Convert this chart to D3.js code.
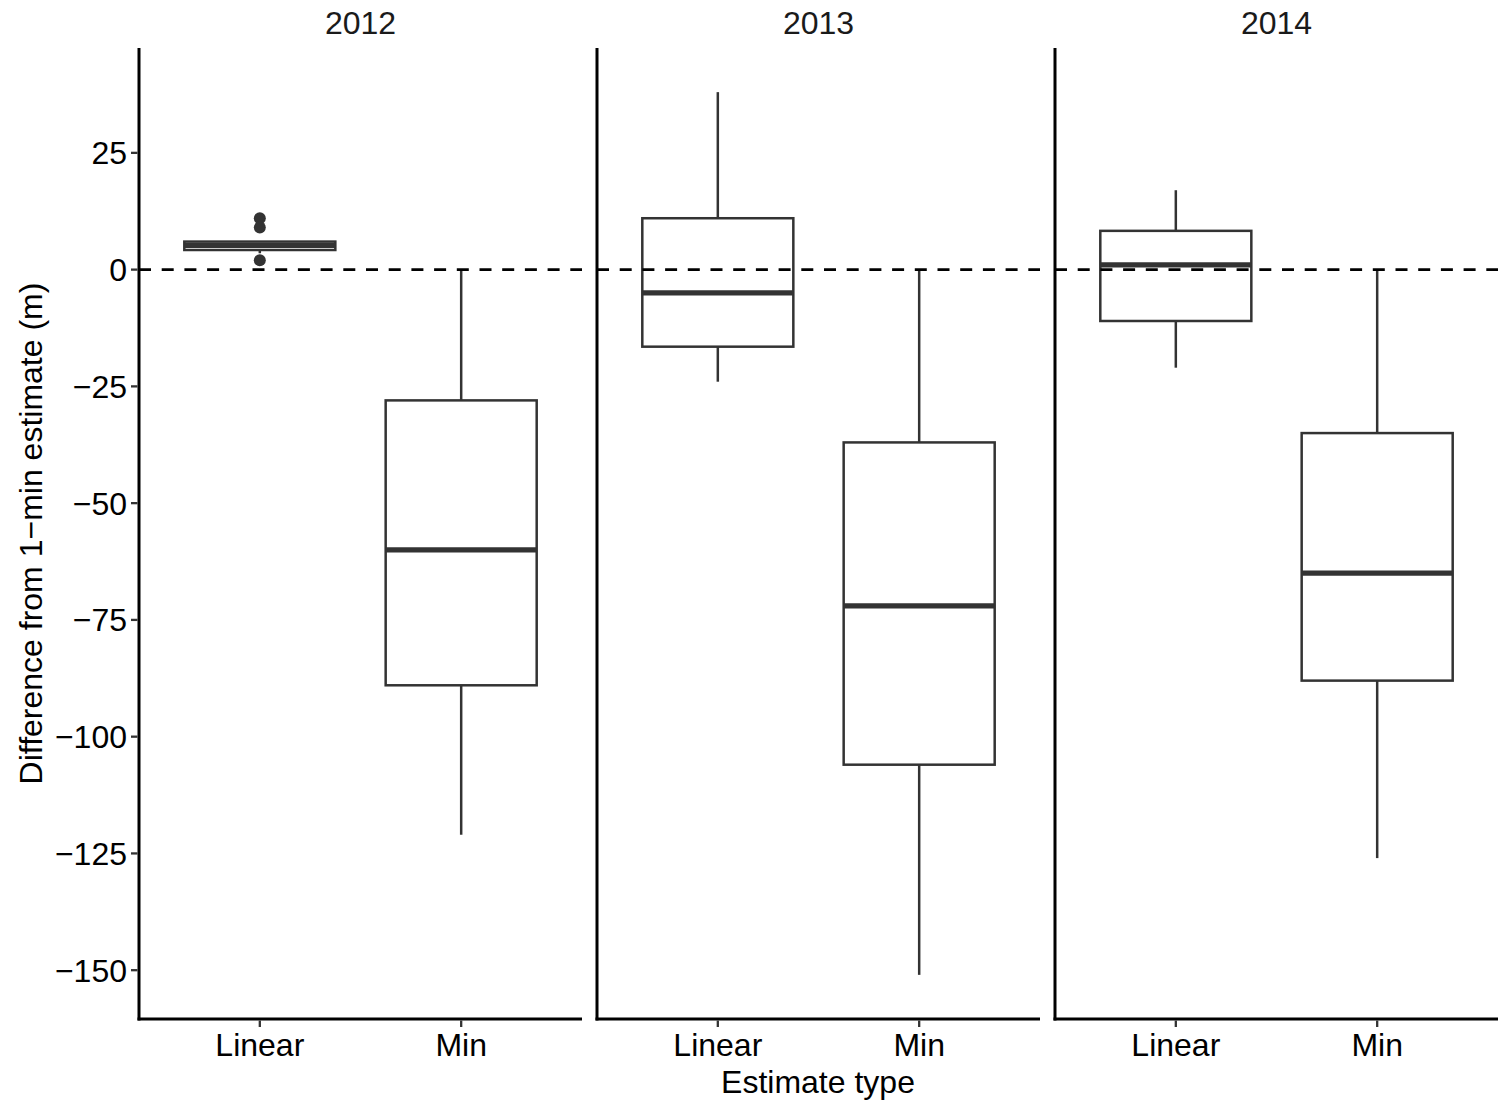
<!DOCTYPE html>
<html><head><meta charset="utf-8">
<script src="https://cdn.jsdelivr.net/npm/d3@7"></script>
<style>body{margin:0;background:#fff}text{font-family:Arial,"Liberation Sans",sans-serif}</style>
</head><body><svg id="c" width="1506" height="1102"></svg>
<script>
const years = ["2012", "2013", "2014"];
const types = ["Linear", "Min"];
// box statistics, order: 2012 Linear, 2012 Min, 2013 Linear, 2013 Min, 2014 Linear, 2014 Min
const whiskerLow = [3.5, -121, -24, -151, -21, -126];
const q1 = [4.2, -89, -16.5, -106, -11, -88];
const median = [5.2, -60, -5, -72, 1, -65];
const q3 = [6.0, -28, 11, -37, 8.3, -35];
const whiskerHigh = [6.0, 0, 38, 0, 17, 0];
const outlierYear = ["2012", "2012", "2012"];
const outlierType = ["Linear", "Linear", "Linear"];
const outlierValue = [11, 9, 2];
const yTicks = [25, 0, -25, -50, -75, -100, -125, -150];

const svg = d3.select("#c");
const plotTop = 48, plotBottom = 1019;
const panelLeft = [139, 597, 1055], panelW = 443;
const y = d3.scaleLinear().domain([-160.45, 47.45]).range([plotBottom, plotTop]);
const dark = "#333333";
const fs = 32;

years.forEach((yr, pi) => {
  const g = svg.append("g").attr("transform", `translate(${panelLeft[pi]},0)`);
  // ggplot-like discrete positions with 0.6 expansion
  const xs = d3.scaleLinear().domain([0.4, 2.6]).range([0, panelW]);
  const pos = t => xs(types.indexOf(t) + 1);
  const bw = xs(1.75) - xs(1);

  types.forEach((t, ti) => {
    const i = pi * 2 + ti;
    const cx = pos(t);
    g.append("line").attr("x1", cx).attr("x2", cx).attr("y1", y(q3[i])).attr("y2", y(whiskerHigh[i]))
      .attr("stroke", dark).attr("stroke-width", 2.5);
    g.append("line").attr("x1", cx).attr("x2", cx).attr("y1", y(q1[i])).attr("y2", y(whiskerLow[i]))
      .attr("stroke", dark).attr("stroke-width", 2.5);
    g.append("rect").attr("x", cx - bw / 2).attr("width", bw)
      .attr("y", y(q3[i])).attr("height", y(q1[i]) - y(q3[i]))
      .attr("fill", "#fff").attr("stroke", dark).attr("stroke-width", 2.5);
    g.append("line").attr("x1", cx - bw / 2).attr("x2", cx + bw / 2).attr("y1", y(median[i])).attr("y2", y(median[i]))
      .attr("stroke", dark).attr("stroke-width", 5.2);
  });
  outlierValue.forEach((v, k) => {
    if (outlierYear[k] !== yr) return;
    g.append("circle").attr("cx", pos(outlierType[k])).attr("cy", y(v)).attr("r", 6).attr("fill", dark);
  });

  // dashed reference line drawn above boxes
  g.append("line").attr("x1", 0).attr("x2", panelW).attr("y1", y(0)).attr("y2", y(0))
    .attr("stroke", "#000").attr("stroke-width", 2.6).attr("stroke-dasharray", "12,10.7");

  g.append("line").attr("x1", 0).attr("x2", 0).attr("y1", plotTop).attr("y2", plotBottom + 1.5)
    .attr("stroke", "#000").attr("stroke-width", 3);
  g.append("line").attr("x1", -1.5).attr("x2", panelW).attr("y1", plotBottom).attr("y2", plotBottom)
    .attr("stroke", "#000").attr("stroke-width", 3);
  types.forEach(t => {
    g.append("line").attr("x1", pos(t)).attr("x2", pos(t)).attr("y1", plotBottom + 1.5).attr("y2", plotBottom + 8)
      .attr("stroke", dark).attr("stroke-width", 2.3);
    g.append("text").attr("x", pos(t)).attr("y", plotBottom + 37).attr("text-anchor", "middle")
      .attr("font-size", fs).attr("fill", "#000").text(t);
  });
  g.append("text").attr("x", panelW / 2).attr("y", 34).attr("text-anchor", "middle")
    .attr("font-size", fs).attr("fill", "#1a1a1a").text(yr);

  if (pi === 0) {
    yTicks.forEach(v => {
      g.append("line").attr("x1", -8).attr("x2", -1.5).attr("y1", y(v)).attr("y2", y(v))
        .attr("stroke", dark).attr("stroke-width", 2.3);
      g.append("text").attr("x", -12).attr("y", y(v)).attr("dy", "0.36em").attr("text-anchor", "end")
        .attr("font-size", fs).attr("fill", "#000").text(v < 0 ? "\u2212" + Math.abs(v) : v);
    });
  }
});

svg.append("text").attr("x", 818).attr("y", 1093).attr("text-anchor", "middle")
  .attr("font-size", fs).attr("fill", "#000").text("Estimate type");
svg.append("text").attr("transform", `translate(42,${(plotTop + plotBottom) / 2}) rotate(-90)`)
  .attr("text-anchor", "middle").attr("font-size", fs).attr("fill", "#000")
  .text("Difference from 1\u2212min estimate (m)");
</script></body></html>
